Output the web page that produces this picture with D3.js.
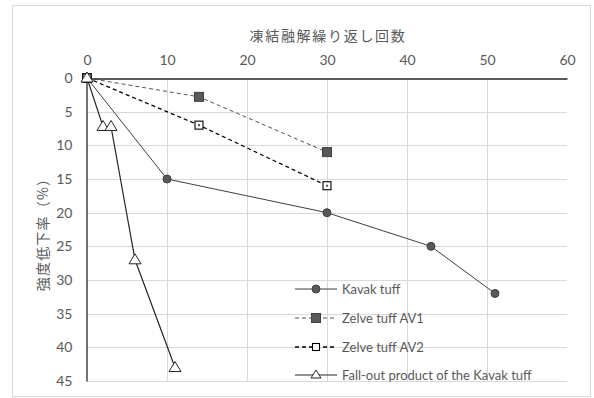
<!DOCTYPE html>
<html>
<head>
<meta charset="utf-8">
<script src="https://cdn.jsdelivr.net/npm/d3@7"></script>
<style>
  body { margin: 0; background: #fff; }
  svg { display: block; font-family: Lato, "Open Sans", sans-serif; }
</style>
</head>
<body>
<script>
// Freeze–thaw cycles vs. strength reduction
const kavakX = [0, 10, 30, 43, 51];
const kavakY = [0, 15, 20, 25, 32];
const av1X = [0, 14, 30];
const av1Y = [0, 2.8, 11];
const av2X = [0, 14, 30];
const av2Y = [0, 7, 16];
const falloutX = [0, 2, 3, 6, 11];
const falloutY = [0, 7.2, 7.2, 27, 43];

const seriesNames = ["Kavak tuff", "Zelve tuff AV1", "Zelve tuff AV2", "Fall-out product of the Kavak tuff"];
const xTicks = [0, 10, 20, 30, 40, 50, 60];
const yTicks = [0, 5, 10, 15, 20, 25, 30, 35, 40, 45];
const xTitle = "凍結融解繰り返し回数";
const yTitle = "強度低下率（%）";

const W = 594, H = 398;
const svg = d3.select("body").append("svg").attr("width", W).attr("height", H);

svg.append("rect").attr("x", 12.5).attr("y", 5.5).attr("width", 578).attr("height", 391)
  .attr("fill", "#fff").attr("stroke", "#d9d9d9");

const x = d3.scaleLinear().domain([0, 60]).range([87, 567]);
const y = d3.scaleLinear().domain([0, 45]).range([78, 381]);

const grey = "#595959";
const latin = "Lato, 'Open Sans', sans-serif";
const cjk = "'Noto Sans CJK JP', sans-serif";

// gridlines
svg.append("g").selectAll("line").data(yTicks.filter(d => d > 0)).join("line")
  .attr("x1", x(0)).attr("x2", x(60)).attr("y1", d => Math.round(y(d)) + 0.5).attr("y2", d => Math.round(y(d)) + 0.5)
  .attr("stroke", "#d9d9d9").attr("stroke-width", 1);
svg.append("g").selectAll("line").data(xTicks.filter(d => d > 0 && d < 60)).join("line")
  .attr("y1", y(0)).attr("y2", y(45)).attr("x1", d => Math.round(x(d)) + 0.5).attr("x2", d => Math.round(x(d)) + 0.5)
  .attr("stroke", "#d9d9d9").attr("stroke-width", 1);

// axes
const xAxis = d3.axisTop(x).tickValues(xTicks).tickSize(0).tickPadding(14);
const gx = svg.append("g").attr("transform", `translate(0,${Math.round(y(0)) + 0.5})`).call(xAxis);
gx.select(".domain").attr("stroke", "#262626").attr("stroke-width", 1.3);
gx.selectAll("text").attr("fill", grey).style("font-size", "14px").style("font-family", latin);

const yAxis = d3.axisLeft(y).tickValues(yTicks).tickSize(0).tickPadding(14);
const gy = svg.append("g").attr("transform", `translate(${Math.round(x(0)) - 0.5},0)`).call(yAxis);
gy.select(".domain").attr("stroke", "#262626").attr("stroke-width", 1.3);
gy.selectAll("text").attr("fill", grey).style("font-size", "14px").style("font-family", latin);

// titles
svg.append("text").attr("x", 328).attr("y", 41).attr("text-anchor", "middle")
  .attr("fill", grey).style("font-size", "14px").style("letter-spacing", "1.7px")
  .style("font-family", cjk).text(xTitle);
svg.append("text").attr("transform", "translate(48,231) rotate(-90)").attr("text-anchor", "middle")
  .attr("fill", grey).style("font-size", "14px").style("letter-spacing", "1.2px")
  .style("font-family", cjk).text(yTitle);

const zip = (xs, ys) => xs.map((v, i) => [v, ys[i]]);
const line = d3.line().x(d => x(d[0])).y(d => y(d[1]));

const series = [
  { name: seriesNames[0], pts: zip(kavakX, kavakY), stroke: "#404040", width: 1, dash: null, marker: "circle" },
  { name: seriesNames[1], pts: zip(av1X, av1Y), stroke: "#404040", width: 0.9, dash: "4,3", marker: "square" },
  { name: seriesNames[2], pts: zip(av2X, av2Y), stroke: "#000", width: 1.3, dash: "4,3", marker: "open" },
  { name: seriesNames[3], pts: zip(falloutX, falloutY), stroke: "#262626", width: 1.2, dash: null, marker: "tri" }
];

function drawMarker(g, type, cx, cy, small) {
  if (type === "circle") {
    g.append("circle").attr("cx", cx).attr("cy", cy).attr("r", 4).attr("fill", grey).attr("stroke", "#404040");
  } else if (type === "square") {
    const s = 9;
    g.append("rect").attr("x", cx - s / 2).attr("y", cy - s / 2).attr("width", s).attr("height", s)
      .attr("fill", grey).attr("stroke", "#404040");
  } else if (type === "open") {
    const s = small ? 7 : 8;
    g.append("rect").attr("x", cx - s / 2).attr("y", cy - s / 2).attr("width", s).attr("height", s)
      .attr("fill", "#fff").attr("stroke", "#000").attr("stroke-width", 1.1);
    if (!small) g.append("rect").attr("x", cx - 1).attr("y", cy - 1).attr("width", 2).attr("height", 2).attr("fill", "#555");
  } else if (type === "tri") {
    const s = small ? 4 : 5;
    g.append("path").attr("d", `M${cx},${cy - s - 1}L${cx + s + 1},${cy + s - 1}L${cx - s - 1},${cy + s - 1}Z`)
      .attr("fill", "#fff").attr("stroke", "#262626").attr("stroke-width", 1);
  }
}

const plot = svg.append("g");
series.forEach(s => {
  plot.append("path").attr("d", line(s.pts)).attr("fill", "none")
    .attr("stroke", s.stroke).attr("stroke-width", s.width).attr("stroke-dasharray", s.dash);
});
series.forEach(s => {
  const g = plot.append("g");
  s.pts.forEach(p => drawMarker(g, s.marker, x(p[0]), y(p[1]), false));
});

// legend
const legY = [289, 318, 347, 375];
const leg = svg.append("g");
series.forEach((s, i) => {
  const g = leg.append("g");
  g.append("line").attr("x1", 295).attr("x2", 337).attr("y1", legY[i]).attr("y2", legY[i])
    .attr("stroke", s.stroke).attr("stroke-width", s.width).attr("stroke-dasharray", s.dash);
  drawMarker(g, s.marker, 316, legY[i], true);
  g.append("text").attr("x", 342).attr("y", legY[i] + 5).attr("fill", grey)
    .style("font-size", "13px").style("font-family", latin).text(s.name);
});
</script>
</body>
</html>
